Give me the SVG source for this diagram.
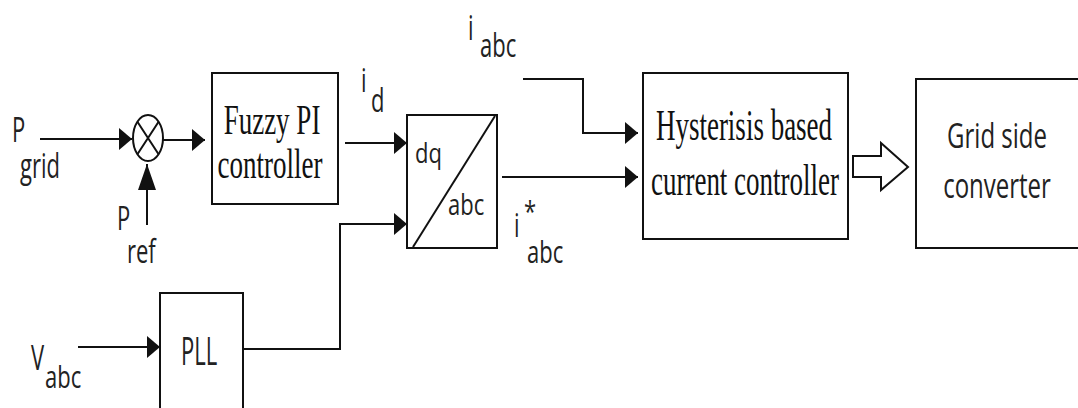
<svg xmlns="http://www.w3.org/2000/svg" width="1078" height="408" viewBox="0 0 1078 408">
<style>
.box{fill:none;stroke:#111;stroke-width:2}
.ln{fill:none;stroke:#111;stroke-width:2}
.s{font-family:"Open Sans","Noto Sans",sans-serif;font-size:22px;fill:#222}
.t{font-family:"Liberation Serif","Times New Roman",serif;font-size:27px;fill:#111;text-anchor:middle}
.g{font-family:"Open Sans","Noto Sans",sans-serif;font-size:24px;fill:#222;text-anchor:middle}
</style>
<defs>
<marker id="ah" markerUnits="userSpaceOnUse" markerWidth="14" markerHeight="24" refX="13" refY="11" orient="auto" viewBox="0 0 14 24">
<path d="M0,0 L13,11 L0,22 Z" fill="#111"/>
</marker>
<marker id="au" markerUnits="userSpaceOnUse" markerWidth="20" markerHeight="28" refX="9" refY="0" orient="0" viewBox="0 0 20 28">
<path d="M9,0 L18,26 L0,26 Z" fill="#111"/>
</marker>
</defs>
<rect width="1078" height="408" fill="#fff"/>

<g id="connectors">
<path class="ln" d="M40,139 H132" marker-end="url(#ah)"/>
<path class="ln" d="M147,225 V164" marker-end="url(#au)"/>
<path class="ln" d="M163,140 H205" marker-end="url(#ah)"/>
<path class="ln" d="M345,143 H407" marker-end="url(#ah)"/>
<path class="ln" d="M243,349 H340 V224 H407" marker-end="url(#ah)"/>
<path class="ln" d="M78,347 H160" marker-end="url(#ah)"/>
<path class="ln" d="M502,177 H638" marker-end="url(#ah)"/>
<path class="ln" d="M523,79 H583 V133 H638" marker-end="url(#ah)"/>
<polygon class="ln" points="853,156 881,156 881,143 908,167 881,190 881,177 853,177"/>
</g>

<g id="labels">
<text class="s" transform="translate(12,142) scale(1,1.55)">P</text>
<text class="s" transform="translate(20,178) scale(1,1.55)">grid</text>
<text class="s" transform="translate(117,230) scale(1,1.5)">P</text>
<text class="s" transform="translate(127,263) scale(1,1.5)">ref</text>
<text class="s" transform="translate(361,92) scale(1,1.5)">i</text>
<text class="s" transform="translate(371,112) scale(1,1.5)">d</text>
<text class="s" transform="translate(468,40) scale(1,1.55)">i</text>
<text class="s" transform="translate(480,57) scale(1,1.5)">abc</text>
<text class="s" transform="translate(514,237) scale(1,1.5)">i</text>
<text class="s" transform="translate(524,222) scale(1,1.3)">*</text>
<text class="s" transform="translate(527,263) scale(1,1.4)">abc</text>
<text class="s" transform="translate(31,370) scale(1,1.6)">V</text>
<text class="s" transform="translate(45,388) scale(1,1.4)">abc</text>
</g>

<g id="sum">
<ellipse class="box" cx="148" cy="138" rx="15" ry="23"/>
<path class="ln" d="M137.4,121.7 L158.6,154.3 M158.6,121.7 L137.4,154.3"/>
</g>

<g id="fuzzy">
<rect class="box" x="212" y="73" width="126" height="131"/>
<text class="t" transform="translate(272,134) scale(1,1.6)">Fuzzy PI</text>
<text class="t" transform="translate(270,178) scale(1,1.6)">controller</text>
</g>

<g id="dqabc">
<rect class="box" x="407" y="115" width="90" height="133"/>
<path class="ln" d="M413,247 L495,116"/>
<text class="s" transform="translate(415,163) scale(1,1.25)">dq</text>
<text class="s" transform="translate(448,215) scale(1,1.35)">abc</text>
</g>

<g id="pll">
<rect class="box" x="160" y="293" width="83" height="120"/>
<text class="s" transform="translate(181,365) scale(1,1.7)">PLL</text>
</g>

<g id="hysteresis">
<rect class="box" x="643" y="73" width="205" height="166"/>
<text class="t" transform="translate(744,140) scale(1,1.65)">Hysterisis based</text>
<text class="t" transform="translate(745,195) scale(1,1.65)">current controller</text>
</g>

<g id="grid">
<rect class="box" x="916" y="79" width="180" height="169"/>
<text class="g" transform="translate(997,148) scale(1,1.45)">Grid side</text>
<text class="g" transform="translate(997,198) scale(1,1.45)">converter</text>
</g>
</svg>
